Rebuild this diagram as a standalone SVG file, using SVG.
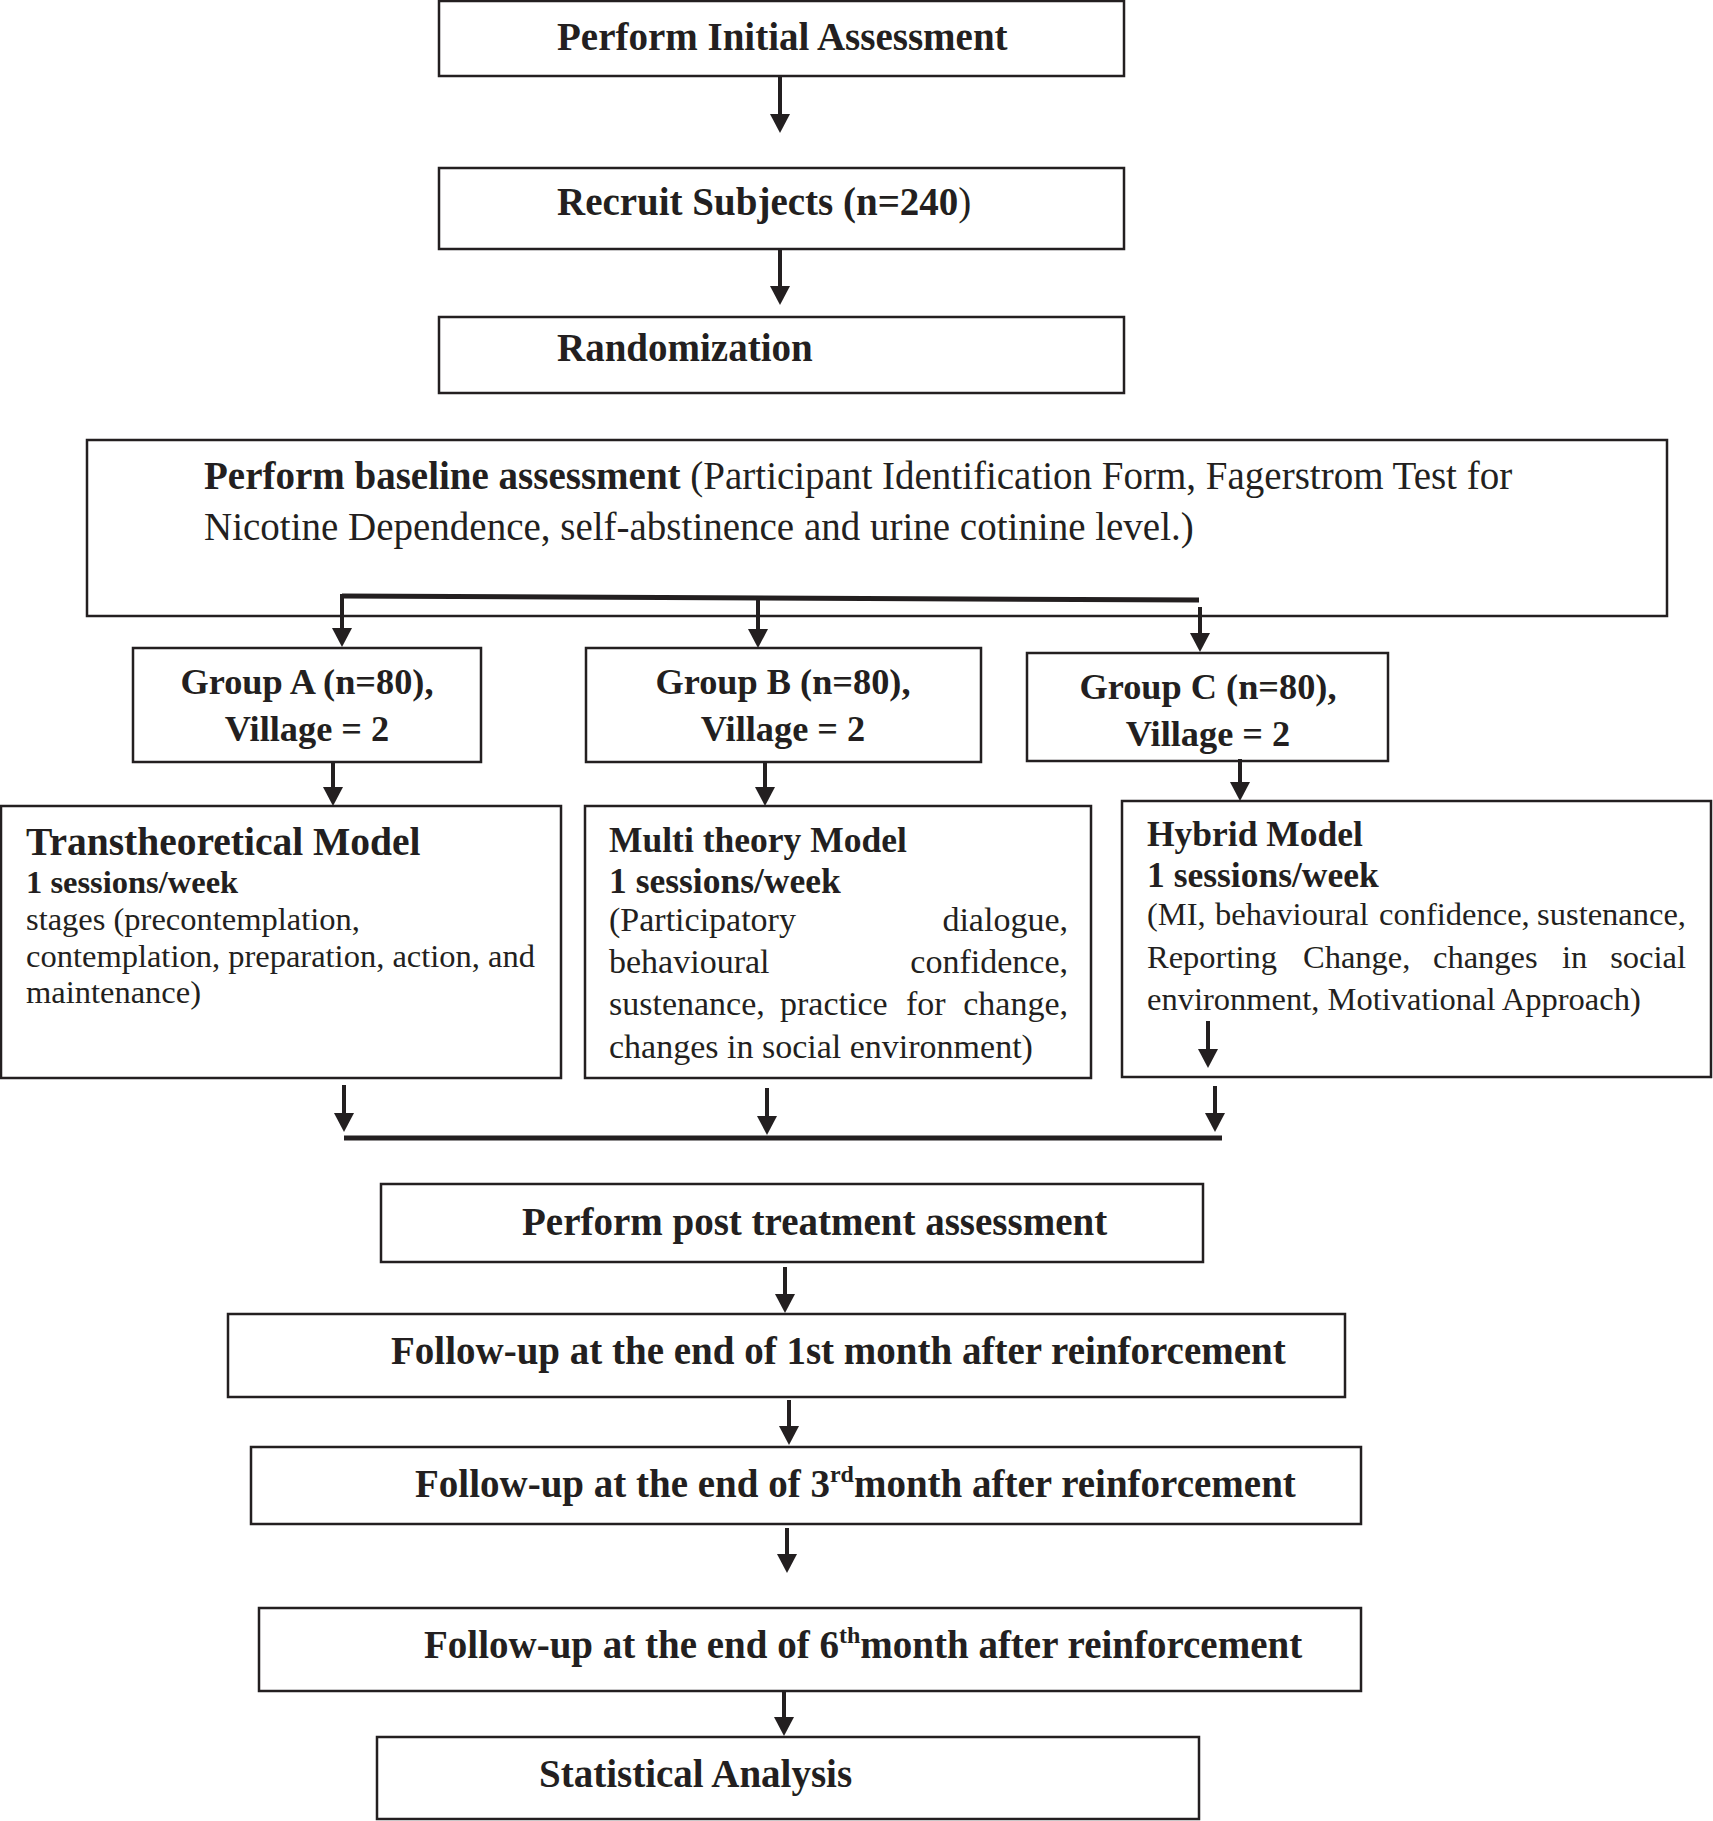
<svg xmlns="http://www.w3.org/2000/svg" width="1713" height="1821" viewBox="0 0 1713 1821">
<style>
.box{fill:#fff;stroke:#231f20;stroke-width:2.5}
.t{font-family:"Liberation Serif","Times New Roman",serif;fill:#231f20}
.b{font-weight:bold}
.h{font-size:39px}
.r{font-size:32.5px}
.c{stroke:#231f20;stroke-width:4;fill:none}
.k{stroke:#231f20;stroke-width:5;fill:none}
</style>
<defs>
<marker id="ah" viewBox="0 0 19 20" refX="9" refY="10" markerWidth="19" markerHeight="20" markerUnits="userSpaceOnUse" orient="auto">
<path d="M0,0 L19,10 L0,20 z" fill="#231f20"/>
</marker>
</defs>
<rect width="1713" height="1821" fill="#fff"/>

<g id="n1"><rect class="box" x="439" y="1" width="685" height="75"/>
<text class="t b h" x="557" y="50">Perform Initial Assessment</text></g>
<g id="n2"><rect class="box" x="439" y="168" width="685" height="81"/>
<text class="t b h" x="557" y="215">Recruit Subjects (n=240<tspan font-weight="normal">)</tspan></text></g>
<g id="n3"><rect class="box" x="439" y="317" width="685" height="76"/>
<text class="t b h" x="557" y="361">Randomization</text></g>

<g id="n4"><rect class="box" x="87" y="440" width="1580" height="176"/>
<text class="t" x="204" y="489" font-size="39"><tspan font-weight="bold">Perform baseline assessment</tspan> (Participant Identification Form, Fagerstrom Test for</text>
<text class="t" x="204" y="540" font-size="39">Nicotine Dependence, self-abstinence and urine cotinine level.)</text></g>

<g id="gA"><rect class="box" x="133" y="648" width="348" height="114"/>
<text class="t b" x="307" y="694" text-anchor="middle" font-size="36.3">Group A (n=80),</text>
<text class="t b" x="307" y="741" text-anchor="middle" font-size="36.3">Village = 2</text></g>
<g id="gB"><rect class="box" x="586" y="648" width="395" height="114"/>
<text class="t b" x="783" y="694" text-anchor="middle" font-size="36.3">Group B (n=80),</text>
<text class="t b" x="783" y="741" text-anchor="middle" font-size="36.3">Village = 2</text></g>
<g id="gC"><rect class="box" x="1027" y="653" width="361" height="108"/>
<text class="t b" x="1208" y="699" text-anchor="middle" font-size="36.3">Group C (n=80),</text>
<text class="t b" x="1208" y="746" text-anchor="middle" font-size="36.3">Village = 2</text></g>

<g id="mA"><rect class="box" x="1" y="806" width="560" height="272"/>
<text class="t b" x="26" y="855" font-size="39.5">Transtheoretical Model</text>
<text class="t b" x="26" y="893" font-size="32.5">1 sessions/week</text>
<text class="t r" x="26" y="930">stages (precontemplation,</text>
<text class="t r" x="26" y="967">contemplation, preparation, action, and</text>
<text class="t r" x="26" y="1003">maintenance)</text></g>

<g id="mB"><rect class="box" x="585" y="806" width="506" height="272"/>
<text class="t b" x="609" y="852" font-size="35.5">Multi theory Model</text>
<text class="t b" x="609" y="893" font-size="35.5">1 sessions/week</text>
<text class="t" font-size="34" x="609" y="931">(Participatory</text>
<text class="t" font-size="34" x="1068" y="931" text-anchor="end">dialogue,</text>
<text class="t" font-size="34" x="609" y="973">behavioural</text>
<text class="t" font-size="34" x="1068" y="973" text-anchor="end">confidence,</text>
<text class="t" font-size="34" x="609" y="1015">sustenance,</text>
<text class="t" font-size="34" x="780" y="1015">practice</text>
<text class="t" font-size="34" x="906" y="1015">for</text>
<text class="t" font-size="34" x="1068" y="1015" text-anchor="end">change,</text>
<text class="t" font-size="34" x="609" y="1058">changes in social environment)</text></g>

<g id="mC"><rect class="box" x="1122" y="801" width="589" height="276"/>
<text class="t b" x="1147" y="846" font-size="35.5">Hybrid Model</text>
<text class="t b" x="1147" y="887" font-size="35.5">1 sessions/week</text>
<text class="t r" x="1147" y="925">(MI,</text>
<text class="t r" x="1215" y="925">behavioural</text>
<text class="t r" x="1379" y="925">confidence,</text>
<text class="t r" x="1686" y="925" text-anchor="end">sustenance,</text>
<text class="t r" x="1147" y="968">Reporting</text>
<text class="t r" x="1303" y="968">Change,</text>
<text class="t r" x="1433" y="968">changes</text>
<text class="t r" x="1562" y="968">in</text>
<text class="t r" x="1686" y="968" text-anchor="end">social</text>
<text class="t r" x="1147" y="1010">environment, Motivational Approach)</text></g>

<g id="p1"><rect class="box" x="381" y="1184" width="822" height="78"/>
<text class="t b h" x="522" y="1235">Perform post treatment assessment</text></g>
<g id="f1"><rect class="box" x="228" y="1314" width="1117" height="83"/>
<text class="t b h" x="391" y="1364">Follow-up at the end of 1st month after reinforcement</text></g>
<g id="f3"><rect class="box" x="251" y="1447" width="1110" height="77"/>
<text class="t b h" x="415" y="1497">Follow-up at the end of 3<tspan font-size="24" dy="-15">rd</tspan><tspan dy="15">month after reinforcement</tspan></text></g>
<g id="f6"><rect class="box" x="259" y="1608" width="1102" height="83"/>
<text class="t b h" x="424" y="1658">Follow-up at the end of 6<tspan font-size="24" dy="-15">th</tspan><tspan dy="15">month after reinforcement</tspan></text></g>
<g id="sa"><rect class="box" x="377" y="1737" width="822" height="82"/>
<text class="t b h" x="539" y="1787">Statistical Analysis</text></g>

<g id="connectors">
<line class="c" x1="780" y1="76" x2="780" y2="123" marker-end="url(#ah)"/>
<line class="c" x1="780" y1="249" x2="780" y2="295" marker-end="url(#ah)"/>
<polyline class="k" points="342,596 1199,600"/>
<line class="c" x1="342" y1="594" x2="342" y2="637" marker-end="url(#ah)"/>
<line class="c" x1="758" y1="598" x2="758" y2="638" marker-end="url(#ah)"/>
<line class="c" x1="1200" y1="607" x2="1200" y2="642" marker-end="url(#ah)"/>
<line class="c" x1="333" y1="762" x2="333" y2="796" marker-end="url(#ah)"/>
<line class="c" x1="765" y1="762" x2="765" y2="796" marker-end="url(#ah)"/>
<line class="c" x1="1240" y1="759" x2="1240" y2="791" marker-end="url(#ah)"/>
<line class="c" x1="1208" y1="1021" x2="1208" y2="1058" marker-end="url(#ah)"/>
<line class="c" x1="344" y1="1085" x2="344" y2="1122" marker-end="url(#ah)"/>
<line class="c" x1="767" y1="1088" x2="767" y2="1125" marker-end="url(#ah)"/>
<line class="c" x1="1215" y1="1086" x2="1215" y2="1122" marker-end="url(#ah)"/>
<line class="k" x1="344" y1="1138" x2="1222" y2="1138"/>
<line class="c" x1="785" y1="1267" x2="785" y2="1303" marker-end="url(#ah)"/>
<line class="c" x1="789" y1="1400" x2="789" y2="1435" marker-end="url(#ah)"/>
<line class="c" x1="787" y1="1528" x2="787" y2="1563" marker-end="url(#ah)"/>
<line class="c" x1="784" y1="1691" x2="784" y2="1726" marker-end="url(#ah)"/>
</g>
</svg>
